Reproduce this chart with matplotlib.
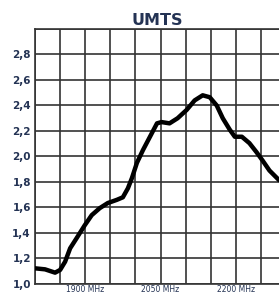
import matplotlib

matplotlib.use("Agg")
import matplotlib.pyplot as plt

# values
freq_mhz = [1800, 1820, 1840, 1850, 1860, 1870, 1883, 1899, 1913, 1929,
            1945, 1963, 1975, 1985, 1993, 2003, 2015, 2029, 2043, 2052,
            2068, 2084, 2102, 2118, 2134, 2148, 2162, 2174, 2188, 2198,
            2212, 2227, 2241, 2253, 2267, 2286]
vswr = [1.123, 1.115, 1.089, 1.11, 1.175, 1.28, 1.36, 1.46, 1.54, 1.595,
        1.635, 1.66, 1.68, 1.75, 1.83, 1.95, 2.05, 2.155, 2.26, 2.27,
        2.26, 2.30, 2.365, 2.44, 2.48, 2.465, 2.40, 2.30, 2.21, 2.155,
        2.155, 2.105, 2.035, 1.97, 1.89, 1.815]

x_grid = list(range(1800, 2300, 50))
x_labels = {1900: "1900 MHz", 2050: "2050 MHz", 2200: "2200 MHz"}
y_ticks = [1.0, 1.2, 1.4, 1.6, 1.8, 2.0, 2.2, 2.4, 2.6, 2.8, 3.0]
y_labels = ["1,0", "1,2", "1,4", "1,6", "1,8", "2,0", "2,2", "2,4", "2,6", "2,8", ""]

text_color = "#243354"
grid_color = "#333333"

fig = plt.figure(figsize=(2.79, 2.95), dpi=100)
ax = fig.add_axes([0.1254, 0.0373, 0.8746, 0.8644])

ax.plot(freq_mhz, vswr, color="black", lw=3.2, solid_joinstyle="round",
        solid_capstyle="round", zorder=3)

ax.set_xlim(1800, 2286)
ax.set_ylim(1.0, 3.0)
ax.set_xticks(x_grid)
ax.set_xticklabels([x_labels.get(v, "") for v in x_grid])
ax.set_yticks(y_ticks)
ax.set_yticklabels(y_labels)
ax.grid(True, color=grid_color, lw=1.2)
ax.set_axisbelow(True)

ax.tick_params(axis="both", length=0, colors=text_color)
ax.tick_params(axis="x", labelsize=5.5, pad=1)
ax.tick_params(axis="y", labelsize=7.5, pad=3)
for lbl in ax.get_yticklabels():
    lbl.set_fontweight("bold")

for side in ("left", "top", "bottom"):
    ax.spines[side].set_color(grid_color)
    ax.spines[side].set_linewidth(1.2)
ax.spines["right"].set_visible(False)

ax.set_title("UMTS", fontsize=11.5, fontweight="bold", color=text_color, pad=3)

fig.savefig("out.png", dpi=100)
